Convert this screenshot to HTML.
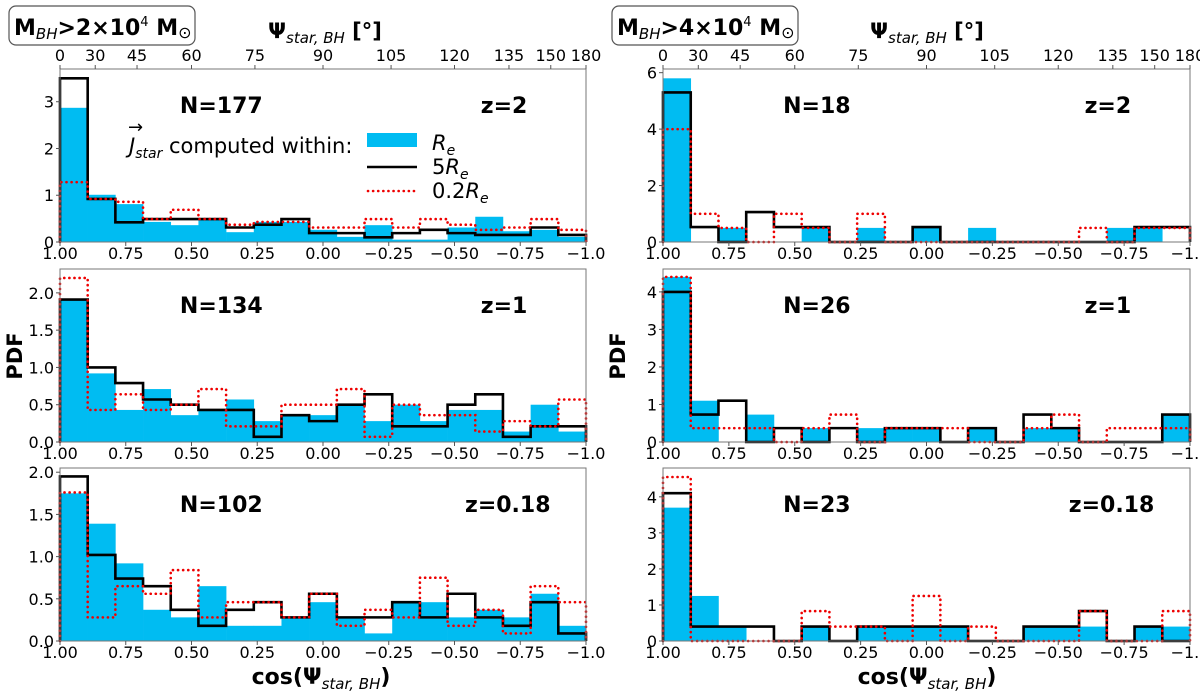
<!DOCTYPE html>
<html><head><meta charset="utf-8"><style>
html,body{margin:0;padding:0;background:#fff;}
svg{display:block;font-family:"DejaVu Sans","Liberation Sans",sans-serif;}
</style></head><body>
<svg id="chart" width="1200" height="697" viewBox="0 0 1200 697" xmlns="http://www.w3.org/2000/svg">
<g>
<rect x="9" y="6" width="186" height="39" rx="7" fill="#fff" stroke="#555" stroke-width="1.2"/>
<text x="14" y="35" font-size="22" font-weight="bold">M<tspan font-size="15" font-style="italic" font-weight="normal" dy="4">BH</tspan><tspan dy="-4">&gt;2×10</tspan><tspan font-size="13" font-weight="normal" dy="-9">4</tspan><tspan dy="9"> M</tspan><tspan font-size="16" font-weight="normal" dy="3">⊙</tspan></text>
</g>
<g>
<rect x="612" y="6" width="186" height="39" rx="7" fill="#fff" stroke="#555" stroke-width="1.2"/>
<text x="617" y="35" font-size="22" font-weight="bold">M<tspan font-size="15" font-style="italic" font-weight="normal" dy="4">BH</tspan><tspan dy="-4">&gt;4×10</tspan><tspan font-size="13" font-weight="normal" dy="-9">4</tspan><tspan dy="9"> M</tspan><tspan font-size="16" font-weight="normal" dy="3">⊙</tspan></text>
</g>
<text x="325" y="38" font-size="21" font-weight="bold" text-anchor="middle">Ψ<tspan font-size="15" font-style="italic" font-weight="normal" dy="5">star, BH</tspan><tspan dy="-5"> [°]</tspan></text>
<text x="927" y="38" font-size="21" font-weight="bold" text-anchor="middle">Ψ<tspan font-size="15" font-style="italic" font-weight="normal" dy="5">star, BH</tspan><tspan dy="-5"> [°]</tspan></text>
<text x="321" y="684" font-size="22" font-weight="bold" text-anchor="middle">cos(Ψ<tspan font-size="15" font-style="italic" font-weight="normal" dy="5">star, BH</tspan><tspan dy="-5">)</tspan></text>
<text x="927" y="684" font-size="22" font-weight="bold" text-anchor="middle">cos(Ψ<tspan font-size="15" font-style="italic" font-weight="normal" dy="5">star, BH</tspan><tspan dy="-5">)</tspan></text>
<text transform="translate(22,356) rotate(-90)" font-size="21" font-weight="bold" text-anchor="middle">PDF</text>
<text transform="translate(625,356) rotate(-90)" font-size="21" font-weight="bold" text-anchor="middle">PDF</text>
<g id="panels"></g>
<g>
<text x="129" y="153" font-size="21"><tspan font-style="italic">J</tspan><tspan font-size="14" font-style="italic" dy="5">star</tspan><tspan dy="-5"> computed within:</tspan></text>
<text x="128" y="133" font-size="18">→</text>
<rect x="367" y="133" width="50" height="14" fill="#00bcf2"/>
<text x="432" y="150" font-size="21" font-style="italic">R<tspan font-size="14" dy="5">e</tspan></text>
<line x1="367" y1="167" x2="417" y2="167" stroke="#000" stroke-width="2.6"/>
<text x="432" y="174" font-size="21">5<tspan font-style="italic">R</tspan><tspan font-size="14" font-style="italic" dy="5">e</tspan></text>
<line x1="368" y1="191" x2="417" y2="191" stroke="#e00" stroke-width="2.6" stroke-dasharray="0.1,5" stroke-linecap="round"/>
<text x="432" y="198" font-size="21">0.2<tspan font-style="italic">R</tspan><tspan font-size="14" font-style="italic" dy="5">e</tspan></text>
</g>
</svg>
<script>
const cosTickLabels = ["1.00","0.75","0.50","0.25","0.00","\u22120.25","\u22120.50","\u22120.75","\u22121.0"];
const cosTickValues = [1,0.75,0.5,0.25,0,-0.25,-0.5,-0.75,-1];
const angTickLabels = ["0","30","45","60","75","90","105","120","135","150","180"];
const angTickValues = [0,30,45,60,75,90,105,120,135,150,180];

const blueTL = [2.87,1.01,0.81,0.43,0.36,0.49,0.21,0.43,0.43,0.26,0.11,0.36,0.05,0.05,0.31,0.54,0.23,0.26,0.11];
const blackTL = [3.5,0.92,0.42,0.49,0.49,0.49,0.31,0.37,0.49,0.19,0.19,0.1,0.19,0.26,0.19,0.15,0.15,0.31,0.15];
const redTL = [1.28,0.92,0.86,0.49,0.69,0.49,0.37,0.43,0.43,0.31,0.31,0.49,0.31,0.49,0.37,0.26,0.31,0.49,0.26];

const blueTR = [5.8,0,0.5,0,0,0.5,0,0.5,0,0.5,0,0.5,0,0,0,0,0.5,0.5,0];
const blackTR = [5.3,0.53,0,1.06,0.53,0.53,0,0,0,0.53,0,0,0,0,0,0,0,0.53,0.53];
const redTR = [4.0,1.0,0.5,0,1.0,0.5,0,1.0,0,0,0,0,0,0,0,0.5,0,0.5,0.5];

const blueML = [1.91,0.92,0.43,0.71,0.36,0.43,0.57,0.28,0.36,0.36,0.5,0.28,0.5,0.28,0.43,0.43,0.14,0.5,0.14];
const blackML = [1.91,1.0,0.79,0.57,0.5,0.43,0.43,0.07,0.36,0.28,0.5,0.64,0.21,0.21,0.5,0.64,0.07,0.21,0.21];
const redML = [2.2,0.43,0.64,0.43,0.5,0.71,0.21,0.21,0.5,0.5,0.71,0.07,0.5,0.36,0.36,0.14,0.28,0.21,0.57];

const blueMR = [4.4,1.1,0,0.73,0,0.37,0,0.37,0.37,0.37,0,0.37,0,0.37,0.37,0,0,0,0.73];
const blackMR = [4.0,0.73,1.1,0,0.37,0,0.37,0,0.37,0.37,0,0.37,0,0.73,0.37,0,0,0,0.73];
const redMR = [4.4,0.37,0.37,0.37,0,0.37,0.73,0,0.37,0.37,0.37,0,0,0.37,0.73,0,0.37,0.37,0.37];

const blueBL = [1.75,1.39,0.92,0.37,0.28,0.65,0.18,0.18,0.28,0.46,0.28,0.09,0.46,0.46,0.28,0.37,0.28,0.56,0.18];
const blackBL = [1.95,1.02,0.74,0.65,0.37,0.18,0.37,0.46,0.28,0.56,0.28,0.28,0.46,0.28,0.56,0.28,0.18,0.46,0.09];
const redBL = [1.76,0.28,0.65,0.56,0.84,0.28,0.46,0.46,0.28,0.56,0.18,0.37,0.28,0.75,0.18,0.37,0.09,0.65,0.46];

const blueBR = [3.7,1.25,0.4,0,0,0.4,0,0.4,0.4,0.4,0.4,0,0,0.4,0.4,0.4,0,0.4,0.4];
const blackBR = [4.1,0.4,0.4,0.4,0,0.4,0,0.4,0.4,0.4,0.4,0,0,0.4,0.4,0.83,0,0.4,0];
const redBR = [4.55,0,0,0,0,0.83,0.4,0.4,0,1.25,0,0.4,0,0,0,0.83,0,0,0.83];

const ticksL1=[0,1,2,3], ticksR1=[0,2,4,6], ticksL2=[0,0.5,1,1.5,2], ticksR2=[0,1,2,3,4], ticksL3=[0,0.5,1,1.5,2], ticksR3=[0,1,2,3,4];
const fmtL1=["0","1","2","3"], fmtR1=["0","2","4","6"], fmtL2=["0.0","0.5","1.0","1.5","2.0"], fmtR2=["0","1","2","3","4"], fmtL3=["0.0","0.5","1.0","1.5","2.0"], fmtR3=["0","1","2","3","4"];

const NS="http://www.w3.org/2000/svg";
const root=document.getElementById('panels');
function mk(tag,attrs,parent){const e=document.createElementNS(NS,tag);for(const k in attrs)e.setAttribute(k,attrs[k]);parent.appendChild(e);return e;}

const panels=[
 {x0:60,x1:586,y0:69,y1:242,ymax:3.7,blue:blueTL,black:blackTL,red:redTL,t:ticksL1,f:fmtL1,n:"N=177",z:"z=2",top:true,name:"panel-z2-left"},
 {x0:663,x1:1190,y0:69,y1:242,ymax:6.13,blue:blueTR,black:blackTR,red:redTR,t:ticksR1,f:fmtR1,n:"N=18",z:"z=2",top:true,name:"panel-z2-right"},
 {x0:60,x1:586,y0:269,y1:442,ymax:2.32,blue:blueML,black:blackML,red:redML,t:ticksL2,f:fmtL2,n:"N=134",z:"z=1",top:false,name:"panel-z1-left"},
 {x0:663,x1:1190,y0:269,y1:442,ymax:4.61,blue:blueMR,black:blackMR,red:redMR,t:ticksR2,f:fmtR2,n:"N=26",z:"z=1",top:false,name:"panel-z1-right"},
 {x0:60,x1:586,y0:468,y1:641,ymax:2.05,blue:blueBL,black:blackBL,red:redBL,t:ticksL3,f:fmtL3,n:"N=102",z:"z=0.18",top:false,name:"panel-z018-left"},
 {x0:663,x1:1190,y0:468,y1:641,ymax:4.8,blue:blueBR,black:blackBR,red:redBR,t:ticksR3,f:fmtR3,n:"N=23",z:"z=0.18",top:false,name:"panel-z018-right"}
];

panels.forEach(p=>{
 const g=mk('g',{},root);
 
 
 const nb=p.blue.length;
 const xs=i=>p.x0+(p.x1-p.x0)*i/nb;
 const xc=c=>p.x0+(p.x1-p.x0)*(1-c)/2;
 const ys=v=>p.y1-(p.y1-p.y0)*v/p.ymax;
 p.blue.forEach((v,i)=>{
  if(v<=0) return;
  const r=mk('rect',{x:xs(i),y:ys(v),width:xs(i+1)-xs(i)+0.3,height:p.y1-ys(v),fill:'#00bcf2'},g);
  
  
 });
 function step(arr){let d=`M${xs(0)},${ys(0)}`;arr.forEach((v,i)=>{d+=` V${ys(v)} H${xs(i+1)}`;});d+=` V${ys(0)}`;return d;}
 const bl=mk('path',{d:step(p.black),fill:'none',stroke:'#000','stroke-width':2.6},g);
 
 
 const rd=mk('path',{d:step(p.red),fill:'none',stroke:'#e00','stroke-width':2.6,'stroke-dasharray':'0.1,5','stroke-linecap':'round'},g);
 
 
 const fr=mk('rect',{x:p.x0,y:p.y0,width:p.x1-p.x0,height:p.y1-p.y0,fill:'none',stroke:'#777','stroke-width':1},g);
 
 
 p.t.forEach((v,i)=>{
  mk('line',{x1:p.x0-4,x2:p.x0,y1:ys(v),y2:ys(v),stroke:'#555'},g);
  const t=mk('text',{x:p.x0-6,y:ys(v)+6,'font-size':16,'text-anchor':'end'},g);
  t.textContent=p.f[i];
  
  
 });
 cosTickValues.forEach((c,i)=>{
  mk('line',{x1:xc(c),x2:xc(c),y1:p.y1,y2:p.y1+4,stroke:'#555'},g);
  const t=mk('text',{x:xc(c),y:p.y1+17,'font-size':16,'text-anchor':'middle'},g);
  t.textContent=cosTickLabels[i];
  
  
 });
 if(p.top){
  angTickValues.forEach((a,i)=>{
   const x=xc(Math.cos(a*Math.PI/180));
   mk('line',{x1:x,x2:x,y1:p.y0,y2:p.y0-4,stroke:'#555'},g);
   const t=mk('text',{x:x,y:p.y0-8,'font-size':16,'text-anchor':'middle'},g);
   t.textContent=angTickLabels[i];
   
   
  });
 }
 const w=p.x1-p.x0;
 const tn=mk('text',{x:p.x0+w*0.228,y:p.y0+44,'font-size':22,'font-weight':'bold'},g);
 tn.textContent=p.n;
 
 
 const tz=mk('text',{x:p.x0+w*(p.z.length>3?0.77:0.8),y:p.y0+44,'font-size':22,'font-weight':'bold'},g);
 tz.textContent=p.z;
 
 
});
</script>
</body></html>
